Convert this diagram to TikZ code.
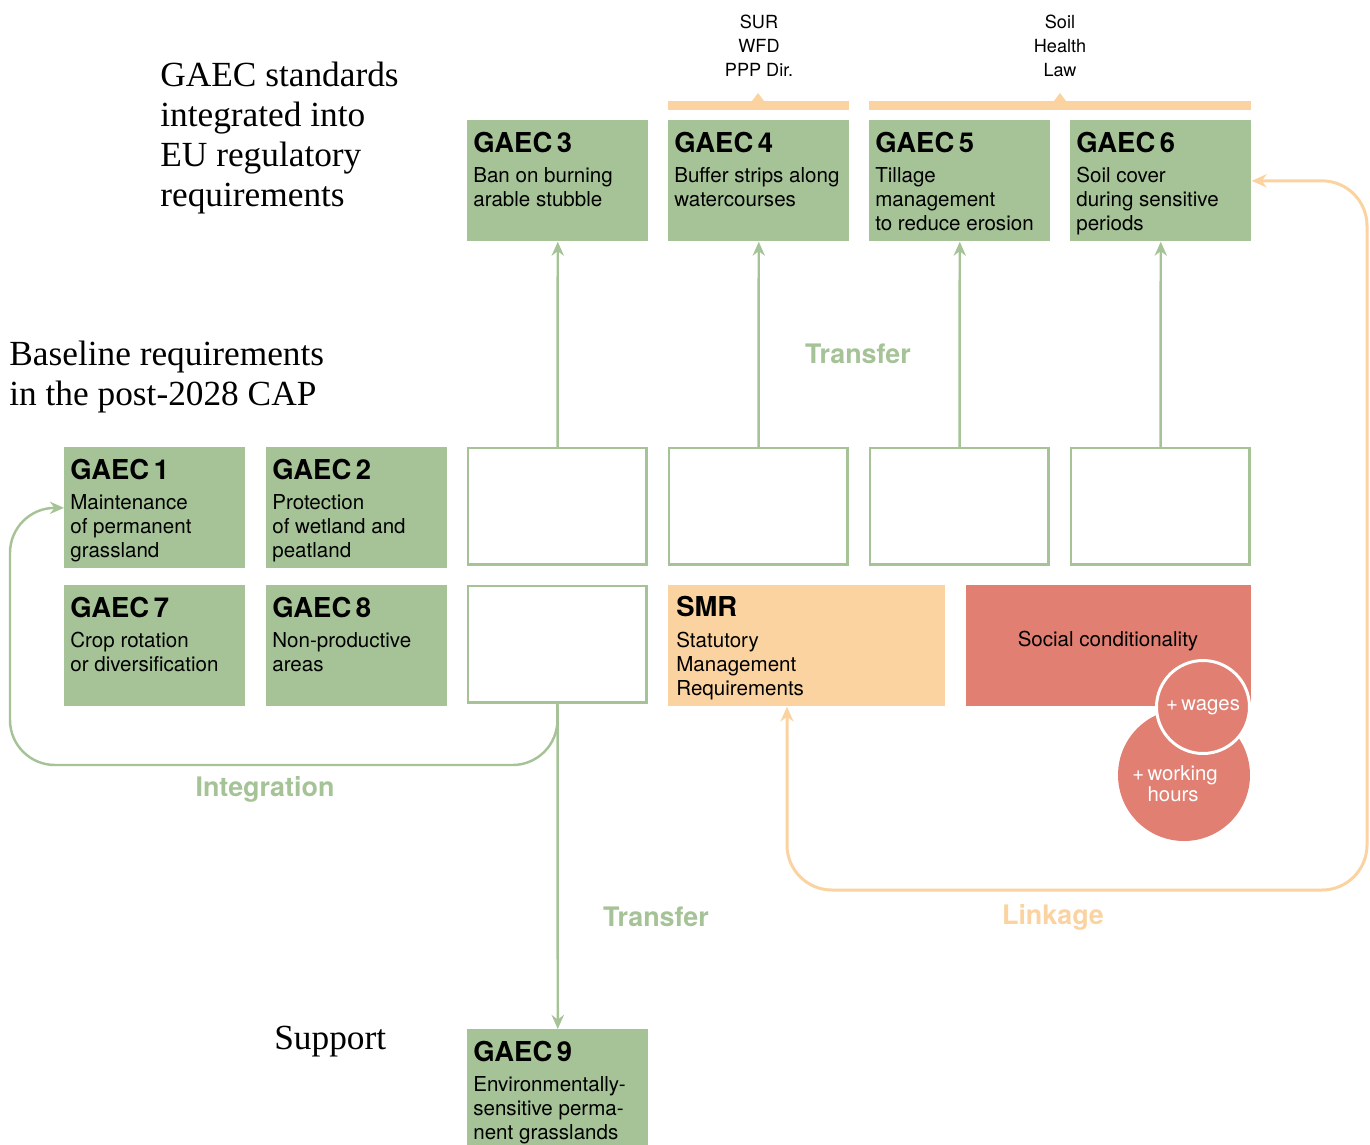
\documentclass[tikz,border=0pt]{standalone}
\usepackage{fontspec}
\newfontfamily\hv{TeX Gyre Heros}
\newfontfamily\tm{Liberation Serif}
\usetikzlibrary{arrows.meta,calc}
\definecolor{gaecgreen}{HTML}{A5C397}
\definecolor{smrorange}{HTML}{FBD3A0}
\definecolor{socred}{HTML}{E07F72}

\begin{document}
\begin{tikzpicture}[x=0.02cm, y=-0.02cm,
  gbox/.style={fill=gaecgreen, minimum width=3.62cm, minimum height=2.42cm, anchor=north west, inner sep=0},
  ebox/.style={draw=gaecgreen, line width=1.4pt, minimum width=3.57cm, minimum height=2.33cm, anchor=north west, inner sep=0},
  ttl/.style={font=\hv\bfseries\fontsize{15.6}{18}\selectfont, anchor=base west, inner sep=0},
  bdy/.style={font=\hv\fontsize{11.7}{13.6}\selectfont, align=left, anchor=north west, inner sep=0},
  head/.style={font=\tm\fontsize{20.1}{22.7}\selectfont, align=left, anchor=north west, inner sep=0},
  note/.style={font=\hv\fontsize{10.3}{13.6}\selectfont, align=center, anchor=north, inner sep=0},
  flow/.style={font=\hv\bfseries\fontsize{15.3}{18}\selectfont, inner sep=0},
  garrow/.style={draw=gaecgreen, line width=1.4pt, -{Stealth[length=8pt,width=7pt]}},
  oarrow/.style={draw=smrorange, line width=1.7pt, {Stealth[length=8.5pt,width=7.5pt]}-{Stealth[length=8.5pt,width=7.5pt]}}
]
  \useasboundingbox (0,0) rectangle (1370,1144);

  \node[head] (hreg) at (160,62) {GAEC standards\\integrated into\\EU regulatory\\requirements};
  \node[head] (hbase) at (9,341) {Baseline requirements\\in the post-2028 CAP};
  \node[head, anchor=base west] (hsup) at (274,1049) {Support};

  \fill[smrorange] (668,101) rectangle (849,110);
  \fill[smrorange] (752,101) -- (758,93) -- (764,101) -- cycle;
  \fill[smrorange] (869,101) rectangle (1251,110);
  \fill[smrorange] (1054,101) -- (1060,93) -- (1066,101) -- cycle;
  \node[note] (sur) at (759,15) {SUR\\WFD\\PPP Dir.};
  \node[note] (shl) at (1060,15) {Soil\\Health\\Law};

  \foreach \n/\x/\y/\txt in {3/467/120/{Ban on burning\\arable stubble},
      4/668/120/{Buffer strips along\\watercourses},
      5/869/120/{Tillage\\management\\to reduce erosion},
      6/1070/120/{Soil cover\\during sensitive\\periods},
      1/64/447/{Maintenance\\of permanent\\grassland},
      2/266/447/{Protection\\of wetland and\\peatland},
      7/64/585/{Crop rotation\\or diversification},
      8/266/585/{Non-productive\\areas},
      9/467/1029/{Environmentally-\\sensitive perma-\\nent grasslands}} {
    \node[gbox] (g\n) at (\x,\y) {};
    \node[ttl] (g\n-t) at ([shift={(6,32)}]g\n.north west) {GAEC\,\n};
    \node[bdy] (g\n-b) at ([shift={(6,47)}]g\n.north west) {\txt};
  }

  \foreach \n/\x in {3/467,4/668,5/869,6/1070}
    \node[ebox] (e\n) at (\x,447) {};
  \node[ebox] (e0) at (467,585) {};

  \node[gbox, fill=smrorange, minimum width=5.54cm] (smr) at (668,585) {};
  \node[ttl] (smr-t) at ([shift={(8,31)}]smr.north west) {SMR};
  \node[bdy] (smr-b) at ([shift={(8,47)}]smr.north west) {Statutory\\Management\\Requirements};

  \node[gbox, fill=socred, minimum width=5.7cm] (soc) at (966,585) {};
  \node[bdy, anchor=center] (soc-t) at (1108,641) {Social conditionality};
  \node[circle, fill=socred, minimum size=2.64cm, inner sep=0] (hrs) at (1184,775) {};
  \node[circle, fill=socred, draw=white, line width=1.7pt, minimum size=1.86cm, inner sep=0,
    text=white, font=\hv\fontsize{11.6}{13.6}\selectfont] (wage) at (1203,707) {+\,wages};
  \node[bdy, anchor=center, text=white, font=\hv\fontsize{11.6}{10.2}\selectfont] (hrs-t) at (1175,784) {+\,working\\\hphantom{+\,}hours};

  \node[flow, text=gaecgreen] (ltr1) at (858,354) {Transfer};
  \node[flow, text=gaecgreen] (lint) at (265,789) {Integration};
  \node[flow, text=gaecgreen] (ltr2) at (656,917) {Transfer};
  \node[flow, text=smrorange] (llink) at (1053,917) {Linkage};

  \foreach \n in {3,...,6}
    \draw[garrow] (e\n) -- (g\n);
  \draw[garrow, rounded corners=0.9cm] (e0.south) |- (10,765) |- (g1.west);
  \draw[garrow] (e0) -- (g9);
  \draw[oarrow, rounded corners=0.9cm] ($(smr.south west)+(119,0)$) |- (1367,890) |- (g6.east);
\end{tikzpicture}
\end{document}
